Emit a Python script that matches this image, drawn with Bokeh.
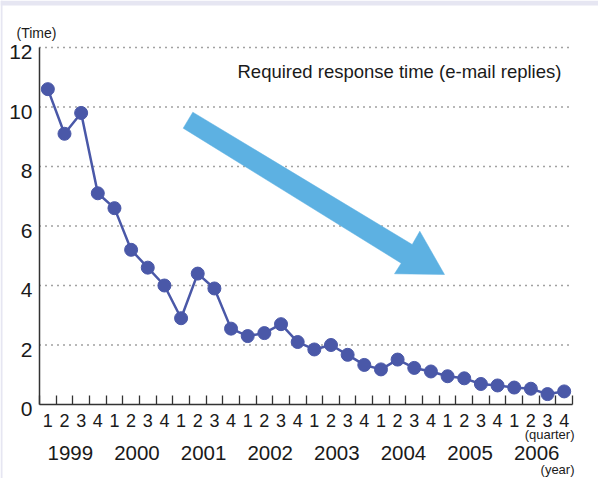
from bokeh.plotting import figure
from bokeh.models import Range1d, FixedTicker, LinearAxis, Label, BoxAnnotation
from bokeh.core.properties import value
from bokeh.embed import file_html
from bokeh.resources import INLINE

# ---- data ----
years = ["1999", "2000", "2001", "2002", "2003", "2004", "2005", "2006"]
quarters = ["1", "2", "3", "4"]
response_time = [10.6, 9.1, 9.8, 7.1, 6.6, 5.2, 4.6, 4.0,
                 2.9, 4.4, 3.9, 2.55, 2.3, 2.4, 2.7, 2.1,
                 1.85, 2.0, 1.67, 1.33, 1.18, 1.51, 1.23, 1.11,
                 0.95, 0.88, 0.69, 0.64, 0.57, 0.53, 0.35, 0.44]
y_ticks = [0, 2, 4, 6, 8, 10, 12]
y_tick_labels = ["0", "2", "4", "6", "8", "10", "12"]
title_text = "Required response time (e-mail replies)"
y_unit = "(Time)"
quarter_unit = "(quarter)"
year_unit = "(year)"

FONT = "Liberation Sans"
LINE = "#4a58a8"
ARROW = "#5db1e2"
TXT = "#1a1a1a"
AXIS = "#333333"
BAND = "#e6e6f2"

W, H = 598, 478
n = len(response_time)
xs = [i + 0.5 for i in range(n)]

# plot area geometry (pixels): x 0..n -> 39..572, y 0..12 -> 404..47
PX_L, PX_R, PY_B, PY_T = 39, 572, 404, 47
sx = (PX_R - PX_L) / n
sy = (PY_B - PY_T) / 12.0


def dx(px):
    return (px - PX_L) / sx


def dy(py):
    return (PY_B - py) / sy


p = figure(width=W, height=H, output_backend="svg", toolbar_location=None, title=None,
           x_range=Range1d(dx(0), dx(W)), y_range=Range1d(dy(H), dy(0)),
           x_axis_location=None, y_axis_location=None,
           min_border=0, min_border_left=0, min_border_right=0,
           min_border_top=0, min_border_bottom=0,
           background_fill_color="white", border_fill_color="white")
p.outline_line_color = None
p.grid.visible = False

# page band (top / left strip)
p.add_layout(BoxAnnotation(bottom=dy(5), fill_color=BAND, fill_alpha=1, line_color=None))
p.add_layout(BoxAnnotation(right=dx(2), fill_color=BAND, fill_alpha=1, line_color=None))

# dotted horizontal grid lines
gy = y_ticks[1:]
p.segment(x0=[0] * len(gy), y0=gy, x1=[dx(570)] * len(gy), y1=gy,
          line_color="#444444", line_dash="1 5", line_width=1.5)

# y axis (line only; labels drawn as text slightly below their grid line)
yax = LinearAxis(fixed_location=0, bounds=(0, 12), ticker=FixedTicker(ticks=y_ticks),
                 major_label_overrides={v: "" for v in y_ticks})
yax.major_tick_out = 0
yax.major_tick_in = 0
yax.minor_tick_out = 0
yax.minor_tick_in = 0
yax.axis_line_color = AXIS
yax.axis_line_width = 1.5
p.add_layout(yax, "left")
p.text(x=[dx(32)] * len(y_ticks), y=y_ticks, text=y_tick_labels,
       text_font=value(FONT), text_align="right", text_baseline="middle",
       y_offset=4.5, text_color=TXT, text_font_size="21px")

# quarter axis
q_labels = {x: quarters[i % 4] for i, x in enumerate(xs)}
xa = LinearAxis(fixed_location=0, bounds=(0, n),
                ticker=FixedTicker(ticks=xs, minor_ticks=list(range(n + 1))),
                major_label_overrides=q_labels)
xa.major_tick_in = 0
xa.major_tick_out = 0
xa.minor_tick_in = 9
xa.minor_tick_out = 0
xa.minor_tick_line_color = AXIS
xa.minor_tick_line_width = 1.3
xa.axis_line_color = AXIS
xa.axis_line_width = 1.5
xa.major_label_standoff = 9
xa.major_label_text_font = FONT
xa.major_label_text_font_size = "18px"
xa.major_label_text_color = TXT
p.add_layout(xa, "below")

# year axis
y_centers = [4 * i + 2 - 2.5 / sx for i in range(len(years))]
ya = LinearAxis(fixed_location=0, ticker=FixedTicker(ticks=y_centers),
                major_label_overrides={c: years[i] for i, c in enumerate(y_centers)})
ya.axis_line_color = None
ya.major_tick_in = 0
ya.major_tick_out = 0
ya.minor_tick_in = 0
ya.minor_tick_out = 0
ya.major_label_standoff = 41
ya.major_label_text_font = FONT
ya.major_label_text_font_size = "20.5px"
ya.major_label_text_color = TXT
p.add_layout(ya, "below")

# trend arrow (decoration)
arrow_px = [(192.3, 111.7), (411.7, 244.0), (419.3, 230.7), (444.0, 274.0),
            (394.0, 273.3), (400.7, 262.7), (182.7, 127.7)]
p.patch([dx(a) for a, b in arrow_px], [dy(b) for a, b in arrow_px],
        fill_color=ARROW, line_color=ARROW, line_width=0.5)

# series
p.line(xs, response_time, line_color=LINE, line_width=2.5)
p.scatter(xs, response_time, size=13, fill_color=LINE, line_color=LINE)

# texts
p.add_layout(Label(x=dx(237), y=dy(71), text=title_text, text_font=FONT,
                   text_font_size="18.5px", text_color=TXT, text_baseline="middle"))
p.add_layout(Label(x=dx(16), y=dy(32), text=y_unit, text_font=FONT,
                   text_font_size="14px", text_color=TXT, text_baseline="middle"))
p.add_layout(Label(x=dx(574), y=dy(434), text=quarter_unit, text_font=FONT,
                   text_font_size="13px", text_color=TXT, text_baseline="middle",
                   text_align="right"))
p.add_layout(Label(x=dx(574), y=dy(469), text=year_unit, text_font=FONT,
                   text_font_size="13px", text_color=TXT, text_baseline="middle",
                   text_align="right"))

open("out.html", "w").write(file_html(p, INLINE))
